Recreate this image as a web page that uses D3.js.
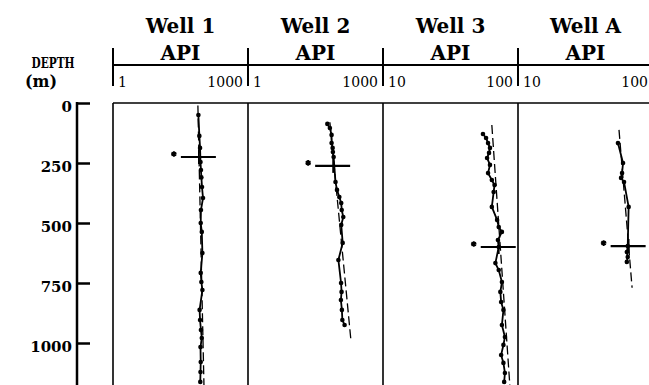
<!DOCTYPE html>
<html>
<head>
<meta charset="utf-8">
<script src="https://cdn.jsdelivr.net/npm/d3@7"></script>
<style>
  html, body { margin: 0; padding: 0; background: #fff; }
  svg { display: block; }
</style>
</head>
<body>
<svg id="chart" width="649" height="385"></svg>
<script>
// Well names and the API scale of each track
const wells = ["Well 1", "Well 2", "Well 3", "Well A"];
const apiMin = [1, 1, 10, 10];
const apiMax = [1000, 1000, 100, 100];
const apiTickLabels = [["1", "1000"], ["1", "1000"], ["10", "100"], ["10", "100"]];
const depthTicks = [0, 250, 500, 750, 1000];

// Log readings: depth (m) and API value for each well
const well1Depth = [50, 137, 187, 246, 279, 310, 350, 396, 446, 500, 537, 625, 708, 746, 779, 862, 904, 946, 979, 1017, 1079, 1121, 1162];
const well1Api   = [79, 83, 86, 88, 90, 92, 95, 100, 90, 89, 94, 97, 89, 92, 97, 84, 86, 90, 94, 88, 89, 88, 87];

const well2Depth = [87, 104, 133, 167, 187, 204, 225, 329, 362, 392, 417, 446, 475, 508, 583, 654, 750, 787, 821, 862, 904, 925];
const well2Api   = [58, 66, 72, 72, 76, 77, 80, 88, 95, 107, 118, 121, 131, 118, 127, 102, 117, 120, 116, 122, 125, 140];

const well3Depth = [129, 146, 167, 187, 208, 229, 258, 292, 321, 342, 371, 433, 487, 517, 537, 571, 600, 667, 696, 746, 787, 829, 862, 925, 975, 1008, 1050, 1083, 1125, 1162];
const well3Api   = [55, 58, 60, 62, 61, 59, 62, 60, 64, 67, 66, 64, 70, 72, 76, 71, 72, 68, 72, 76, 74, 75, 78, 76, 80, 78, 75, 78, 80, 79];

const wellADepth = [167, 250, 292, 312, 329, 433, 596, 621, 642, 662];
const wellAApi   = [55, 60, 59, 58, 61, 66, 65, 64, 65, 64];

// Straight trend line of each well: [top depth, bottom depth] and [top API, bottom API]
const trendDepth = [[10, 1175], [80, 990], [92, 1175], [112, 770]];
const trendApi   = [[77, 105], [66, 194], [64, 87], [56, 70]];

// Marked pick on each well (the starred cross)
const pickDepth = [225, 262, 600, 596];
const pickApi   = [81, 78, 72, 66];

const readings = [
  [well1Depth, well1Api],
  [well2Depth, well2Api],
  [well3Depth, well3Api],
  [wellADepth, wellAApi]
];

const svg = d3.select("#chart");
const serif = "'DejaVu Serif', 'Liberation Serif', serif";

// Layout
const trackLeft = 113, trackWidth = 135;
const plotTop = 103, plotBottom = 385;
const headerLine = 65;

const y = d3.scaleLinear().domain([0, 1000]).range([plotTop, 343]);

const xScales = wells.map((w, i) =>
  d3.scaleLog().domain([apiMin[i], apiMax[i]])
    .range([trackLeft + trackWidth * i, trackLeft + trackWidth * (i + 1)]));

// Depth axis
const depthAxis = d3.axisLeft(y)
  .tickValues(depthTicks)
  .tickFormat(d3.format("d"))
  .tickSizeInner(-13)
  .tickSizeOuter(0)
  .tickPadding(5);

const gAxis = svg.append("g").attr("transform", "translate(77,0)").call(depthAxis);
gAxis.select(".domain").remove();
gAxis.selectAll(".tick line").attr("stroke", "#000").attr("stroke-width", 2.5);
gAxis.selectAll(".tick text")
  .attr("dy", "0.55em")
  .attr("font-family", serif)
  .attr("font-weight", "bold")
  .attr("font-size", 15)
  .attr("fill", "#000");
gAxis.append("line")
  .attr("x1", 0).attr("x2", 0)
  .attr("y1", y(0) - 1).attr("y2", plotBottom)
  .attr("stroke", "#000").attr("stroke-width", 2.5);

// Depth axis title
svg.append("text")
  .attr("x", 53).attr("y", 68)
  .attr("text-anchor", "middle")
  .attr("font-family", serif).attr("font-weight", "bold").attr("font-size", 14)
  .attr("textLength", 43).attr("lengthAdjust", "spacingAndGlyphs")
  .text("DEPTH");
svg.append("text")
  .attr("x", 41).attr("y", 87)
  .attr("text-anchor", "middle")
  .attr("font-family", serif).attr("font-weight", "bold").attr("font-size", 16)
  .text("(m)");

// Header rule and plot frame
const rightEdge = trackLeft + trackWidth * wells.length;
svg.append("line")
  .attr("x1", trackLeft).attr("x2", rightEdge)
  .attr("y1", headerLine).attr("y2", headerLine)
  .attr("stroke", "#000").attr("stroke-width", 2);
svg.append("line")
  .attr("x1", trackLeft).attr("x2", rightEdge)
  .attr("y1", plotTop).attr("y2", plotTop)
  .attr("stroke", "#000").attr("stroke-width", 1.6);

wells.forEach((name, i) => {
  const x = xScales[i];
  const [x0, x1] = x.range();
  const cx = (x0 + x1) / 2;
  const g = svg.append("g");

  // track border and header tick
  g.append("line")
    .attr("x1", x0).attr("x2", x0).attr("y1", plotTop).attr("y2", plotBottom)
    .attr("stroke", "#000").attr("stroke-width", 1.6);
  g.append("line")
    .attr("x1", x0).attr("x2", x0).attr("y1", 48).attr("y2", 86)
    .attr("stroke", "#000").attr("stroke-width", 2);

  // titles
  g.append("text")
    .attr("x", cx).attr("y", 33)
    .attr("text-anchor", "middle")
    .attr("font-family", serif).attr("font-weight", "bold").attr("font-size", 20)
    .text(name);
  g.append("text")
    .attr("x", cx).attr("y", 60)
    .attr("text-anchor", "middle")
    .attr("font-family", serif).attr("font-weight", "bold").attr("font-size", 20)
    .text("API");

  // scale end labels
  g.append("text")
    .attr("x", x(apiMin[i]) + 5).attr("y", 87)
    .attr("text-anchor", "start")
    .attr("font-family", serif).attr("font-size", 14)
    .text(apiTickLabels[i][0]);
  g.append("text")
    .attr("x", x(apiMax[i]) - 5).attr("y", 87)
    .attr("text-anchor", "end")
    .attr("font-family", serif).attr("font-size", 14)
    .text(apiTickLabels[i][1]);

  // trend line
  const [td, ta] = [trendDepth[i], trendApi[i]];
  g.append("line")
    .attr("x1", x(ta[0])).attr("y1", y(td[0]))
    .attr("x2", x(ta[1])).attr("y2", y(td[1]))
    .attr("stroke", "#000").attr("stroke-width", 1.3)
    .attr("stroke-dasharray", "9,4");

  // log readings
  const [depths, apis] = readings[i];
  const pts = depths.map((d, k) => [x(apis[k]), y(d)]);
  g.append("path")
    .attr("d", d3.line()(pts))
    .attr("fill", "none").attr("stroke", "#000").attr("stroke-width", 1.8)
    .attr("stroke-linejoin", "round");
  g.selectAll("circle").data(pts).join("circle")
    .attr("cx", p => p[0]).attr("cy", p => p[1]).attr("r", 2.3)
    .attr("fill", "#000");

  // marked pick: cross with a star to its left
  const px = x(pickApi[i]), py = y(pickDepth[i]);
  g.append("line")
    .attr("x1", px - 18).attr("x2", px + 17).attr("y1", py).attr("y2", py)
    .attr("stroke", "#000").attr("stroke-width", 2.2);
  g.append("line")
    .attr("x1", px).attr("x2", px).attr("y1", py - 7).attr("y2", py + 7)
    .attr("stroke", "#000").attr("stroke-width", 1.8);
  g.append("path")
    .attr("d", d3.symbol().type(d3.symbolAsterisk).size(22)())
    .attr("transform", `translate(${px - 25},${py - 3})`)
    .attr("fill", "none").attr("stroke", "#000").attr("stroke-width", 2);
  g.append("circle")
    .attr("cx", px - 25).attr("cy", py - 3).attr("r", 1.8).attr("fill", "#000");
});
</script>
</body>
</html>
